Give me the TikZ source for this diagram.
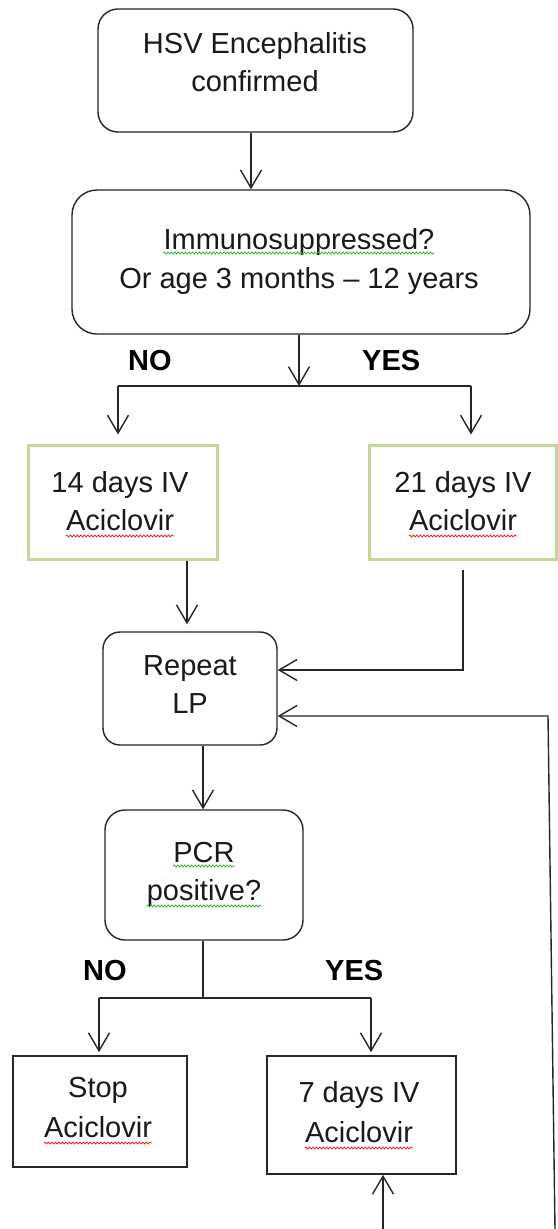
\documentclass[tikz,border=0pt]{standalone}
\usepackage{fontspec}
\setmainfont{Liberation Sans}
\usetikzlibrary{arrows.meta,decorations.pathmorphing}
\definecolor{gboxc}{RGB}{196,215,155}
\definecolor{sqred}{RGB}{230,40,40}
\definecolor{sqgreen}{RGB}{60,170,60}
\tikzset{
  rbox/.style={draw=black!85, line width=1.4pt, rounded corners=#1, inner sep=0pt},
  gbox/.style={draw=gboxc, line width=3pt, inner sep=0pt},
  kbox/.style={draw=black!85, line width=1.6pt, inner sep=0pt},
  txt/.style={font=\fontsize{29}{38}\selectfont, text=black!90, inner sep=0pt, anchor=base},
  lab/.style={font=\fontsize{29}{38}\selectfont\bfseries, text=black, inner sep=0pt, anchor=base west},
  conn/.style={line width=1.4pt, draw=black!85},
  arr/.style={conn, -{Straight Barb[length=18pt,width=21pt]}},
  squigr/.style={draw=sqred, line width=0.8pt, decorate, decoration={snake, amplitude=1pt, segment length=3.5pt}},
  squigg/.style={draw=sqgreen, line width=0.8pt, decorate, decoration={snake, amplitude=1pt, segment length=3.5pt}},
}
\begin{document}
\begin{tikzpicture}[x=1pt,y=-1pt]
\useasboundingbox[fill=white] (0,0) rectangle (557,1229);

% boxes
\node[rbox=20pt, minimum width=315pt, minimum height=123pt] (n1) at (255.5,70.5) {};
\node[rbox=25pt, minimum width=458pt, minimum height=144pt] (n2) at (301,262) {};
\node[gbox, minimum width=189pt, minimum height=114pt] (g1) at (122.5,502) {};
\node[gbox, minimum width=187pt, minimum height=114pt] (g2) at (462.5,502) {};
\node[rbox=17pt, minimum width=174pt, minimum height=113pt] (rep) at (190,688.5) {};
\node[rbox=20pt, minimum width=198pt, minimum height=130pt] (pcr) at (204,875) {};
\node[kbox, minimum width=174pt, minimum height=111pt] (stop) at (100,1111.5) {};
\node[kbox, minimum width=189pt, minimum height=118pt] (sev) at (361.5,1115) {};

% texts
\node[txt] (t1a) at (255,53) {HSV Encephalitis};
\node[txt] (t1b) at (255,91) {confirmed};
\node[txt] (t2a) at (299,249) {Immunosuppressed?};
\node[txt] (t2b) at (299,288) {Or age 3 months -- 12 years};
\node[txt] (t3a) at (120,492) {14 days IV};
\node[txt] (t3b) at (120,530) {Aciclovir};
\node[txt] (t4a) at (463,492) {21 days IV};
\node[txt] (t4b) at (463,530) {Aciclovir};
\node[txt] (t5a) at (190,675) {Repeat};
\node[txt] (t5b) at (190,713) {LP};
\node[txt] (t6a) at (204,862) {PCR};
\node[txt] (t6b) at (204,900) {positive?};
\node[txt] (t7a) at (98,1097) {Stop};
\node[txt] (t7b) at (98,1137) {Aciclovir};
\node[txt] (t8a) at (359,1102) {7 days IV};
\node[txt] (t8b) at (359,1142) {Aciclovir};

\node[lab] (no1) at (128,370) {NO};
\node[lab] (yes1) at (362,370) {YES};
\node[lab] (no2) at (83,980) {NO};
\node[lab] (yes2) at (325,980) {YES};

% spell-check squiggles
\draw[squigg] ([yshift=-4pt]t2a.base west) -- ([yshift=-4pt]t2a.base east);
\draw[squigg] ([yshift=-4pt]t6a.base west) -- ([yshift=-4pt]t6a.base east);
\draw[squigg] ([yshift=-6pt]t6b.base west) -- ([yshift=-6pt]t6b.base east);
\draw[squigr] ([yshift=-6pt]t3b.base west) -- ([yshift=-6pt]t3b.base east);
\draw[squigr] ([yshift=-6pt]t4b.base west) -- ([yshift=-6pt]t4b.base east);
\draw[squigr] ([yshift=-6pt]t7b.base west) -- ([yshift=-6pt]t7b.base east);
\draw[squigr] ([yshift=-6pt]t8b.base west) -- ([yshift=-6pt]t8b.base east);

% junction coordinates
\coordinate (a1) at (251,0);
\coordinate (j1) at (299,386);
\coordinate (j1l) at (118,386);
\coordinate (j1r) at (471,386);
\coordinate (c1) at (187,0);
\coordinate (c2) at (463,670);
\coordinate (c3) at (203,0);
\coordinate (j2) at (203,998);
\coordinate (j2l) at (99,998);
\coordinate (j2r) at (371,998);
\coordinate (rt) at (548,716);
\coordinate (rb) at (555,1229);
\coordinate (sb) at (383,1229);

% connectors
\draw[arr] (n1.south -| a1) -- (n2.north -| a1);
\draw[arr] (n2.south -| j1) -- (j1);
\draw[conn] (j1l) -- (j1r);
\draw[arr, shorten >=9pt] (j1l) -- (g1.north -| j1l);
\draw[arr, shorten >=9pt] (j1r) -- (g2.north -| j1r);
\draw[arr, shorten >=7pt] (g1.south -| c1) -- (rep.north -| c1);
\draw[arr, shorten <=9pt] (g2.south -| c2) -- (c2) -- (rep.east |- c2);
\draw[arr] (rb) -- (rt) -- (rep.east |- rt);
\draw[arr] (rep.south -| c3) -- (pcr.north -| c3);
\draw[conn] (pcr.south -| j2) -- (j2);
\draw[conn] (j2l) -- (j2r);
\draw[arr, shorten >=3pt] (j2l) -- (stop.north -| j2l);
\draw[arr, shorten >=3pt] (j2r) -- (sev.north -| j2r);
\draw[arr] (sb) -- (sev.south -| sb);
\end{tikzpicture}
\end{document}
